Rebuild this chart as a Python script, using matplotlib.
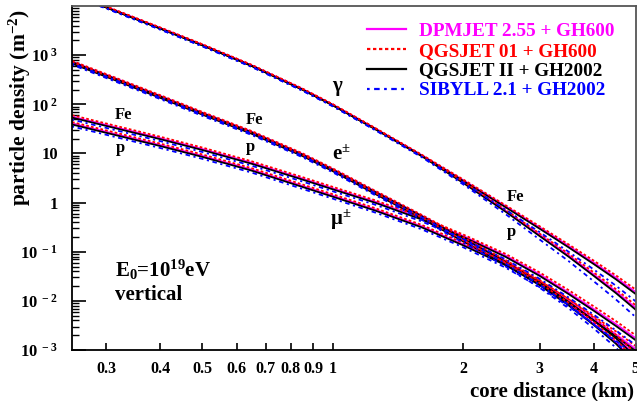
import numpy as np
import matplotlib.pyplot as plt
from matplotlib.lines import Line2D

# =========================
# Data (log10 of density, m^-2)
# =========================
r_km = [0.25, 0.3, 0.4, 0.5, 0.65, 0.85, 1.0, 1.25, 1.6, 2.0, 2.5, 3.0, 3.5, 4.0, 4.5, 5.0]

# QGSJET II + GH2002 (black) taken as reference curves
gamma_fe = [4.23, 3.97, 3.54, 3.20, 2.78, 2.30, 1.98, 1.50, 0.96, 0.44, -0.09, -0.53, -0.91, -1.25, -1.56, -1.86]
gamma_p = [4.23, 3.97, 3.54, 3.20, 2.78, 2.30, 1.98, 1.50, 0.95, 0.40, -0.18, -0.68, -1.10, -1.49, -1.84, -2.18]
elec_fe = [2.86, 2.59, 2.16, 1.82, 1.43, 0.98, 0.67, 0.22, -0.27, -0.73, -1.20, -1.62, -2.02, -2.40, -2.76, -3.14]
elec_p = [2.83, 2.56, 2.13, 1.79, 1.40, 0.95, 0.64, 0.18, -0.32, -0.79, -1.26, -1.68, -2.09, -2.49, -2.87, -3.28]
muon_fe = [1.73, 1.56, 1.29, 1.07, 0.79, 0.47, 0.27, 0.00, -0.34, -0.70, -1.10, -1.49, -1.86, -2.20, -2.51, -2.80]
muon_p = [1.59, 1.42, 1.15, 0.93, 0.65, 0.32, 0.12, -0.16, -0.50, -0.87, -1.27, -1.66, -2.04, -2.40, -2.72, -3.02]

# offsets of the other models relative to the black curves (log10)
gamma_off = {
    "DPMJET 2.55 + GH600": [0.01] * 9 + [0.015, 0.02, 0.025, 0.03, 0.03, 0.035, 0.04],
    "QGSJET 01 + GH600": [0.02] * 9 + [0.03, 0.04, 0.05, 0.06, 0.07, 0.08, 0.09],
    "QGSJET II + GH2002": [0.0] * 16,
    "SIBYLL 2.1 + GH2002": [-0.02] * 9 + [-0.03, -0.05, -0.07, -0.09, -0.11, -0.13, -0.15],
}
elec_off = {
    "DPMJET 2.55 + GH600": [0.01] * 10 + [0.015, 0.02, 0.02, 0.025, 0.03, 0.03],
    "QGSJET 01 + GH600": [0.025] * 10 + [0.035, 0.045, 0.055, 0.065, 0.07, 0.08],
    "QGSJET II + GH2002": [0.0] * 16,
    "SIBYLL 2.1 + GH2002": [-0.025] * 10 + [-0.035, -0.05, -0.06, -0.07, -0.08, -0.09],
}
muon_off = {
    "DPMJET 2.55 + GH600": [0.02] * 10 + [0.025, 0.03, 0.03, 0.035, 0.04, 0.04],
    "QGSJET 01 + GH600": [0.05] * 10 + [0.06, 0.07, 0.08, 0.09, 0.10, 0.10],
    "QGSJET II + GH2002": [0.0] * 16,
    "SIBYLL 2.1 + GH2002": [-0.04] * 10 + [-0.05, -0.06, -0.07, -0.08, -0.09, -0.10],
}

models = ["DPMJET 2.55 + GH600", "QGSJET 01 + GH600", "QGSJET II + GH2002", "SIBYLL 2.1 + GH2002"]
colors = {"DPMJET 2.55 + GH600": "#ff00ff", "QGSJET 01 + GH600": "#ff0000",
          "QGSJET II + GH2002": "#000000", "SIBYLL 2.1 + GH2002": "#0000ff"}
styles = {"DPMJET 2.55 + GH600": "-", "QGSJET 01 + GH600": (0, (1.5, 1.2)),
          "QGSJET II + GH2002": "-", "SIBYLL 2.1 + GH2002": (0, (1.2, 2.0, 2.5, 2.0))}
draw_order = ["DPMJET 2.55 + GH600", "QGSJET II + GH2002", "QGSJET 01 + GH600", "SIBYLL 2.1 + GH2002"]

xticks = [0.3, 0.4, 0.5, 0.6, 0.7, 0.8, 0.9, 1, 2, 3, 4, 5]
xticklabels = ["0.3", "0.4", "0.5", "0.6", "0.7", "0.8", "0.9", "1", "2", "3", "4", "5"]
yticks = [1e-3, 1e-2, 1e-1, 1, 10, 1e2, 1e3]
yticklabels = [r"$10^{\ -3}$", r"$10^{\ -2}$", r"$10^{\ -1}$", "1", "10", r"$10^{\ 2}$", r"$10^{\ 3}$"]

# =========================
# Style
# =========================
plt.rcParams["font.family"] = "Liberation Serif"
plt.rcParams["font.weight"] = "bold"
plt.rcParams["axes.labelweight"] = "bold"
plt.rcParams["mathtext.fontset"] = "custom"
plt.rcParams["mathtext.rm"] = "Liberation Serif:bold"
plt.rcParams["mathtext.it"] = "Liberation Serif:bold"
plt.rcParams["mathtext.bf"] = "Liberation Serif:bold"
plt.rcParams["mathtext.default"] = "rm"

fig = plt.figure(figsize=(6.37, 4.01), dpi=100)
ax = fig.add_axes([0.113, 0.127, 0.885, 0.858])

r = np.array(r_km)
curves = [(gamma_fe, gamma_off), (gamma_p, gamma_off),
          (elec_fe, elec_off), (elec_p, elec_off),
          (muon_fe, muon_off), (muon_p, muon_off)]
for m in draw_order:
    for base, off in curves:
        ax.plot(r, 10 ** (np.array(base) + np.array(off[m])),
                color=colors[m], linestyle=styles[m], linewidth=1.3)

ax.set_xscale("log")
ax.set_yscale("log")
ax.set_xlim(0.25, 5.0)
ax.set_ylim(1e-3, 1e4)

ax.set_xticks(xticks)
ax.set_xticklabels(xticklabels)
ax.xaxis.set_minor_locator(plt.NullLocator())
ax.set_yticks(yticks)
ax.set_yticklabels(yticklabels)
ax.yaxis.set_minor_locator(plt.LogLocator(base=10, subs=np.arange(2, 10)))
ax.yaxis.set_minor_formatter(plt.NullFormatter())
ax.tick_params(axis="both", which="both", direction="in", top=False, right=False)
ax.tick_params(axis="x", which="major", length=5, width=1.2, labelsize=11.5, pad=8)
ax.tick_params(axis="y", which="major", length=10, width=1.2, labelsize=12, pad=10)
ax.tick_params(axis="y", which="minor", length=5, width=1.0)
for s in ax.spines.values():
    s.set_linewidth(1.3)
ax.spines["top"].set_color("#555555")
ax.spines["right"].set_color("#555555")

ax.set_xlabel("core distance (km)", fontsize=15, loc="right")
ax.xaxis.set_label_coords(0.997, -0.09)
ax.set_ylabel(r"particle density (m$^{-2}$)", fontsize=15.5, loc="top")
ax.yaxis.set_label_coords(-0.07, 0.99)

# annotations (axes pixel positions converted to fractions)
def txt(px, py, s, size=13):
    ax.text((px - 72) / 564, (350 - py) / 344, s, transform=ax.transAxes,
            fontsize=size, ha="center", va="center")

txt(124, 115, "Fe", 12)
txt(120, 148, "p", 12)
txt(255, 120, "Fe", 12)
txt(250, 147, "p", 12)
txt(516, 197, "Fe", 12)
txt(512, 232, "p", 12)
txt(338, 88, r"$\gamma$", 15)
txt(342, 155, r"e$^{\pm}$", 15)
txt(341, 220, r"$\mu^{\pm}$", 15)
ax.text((115 - 72) / 564, (350 - 270) / 344, r"E$_0$=10$^{19}$eV", transform=ax.transAxes,
        fontsize=15, ha="left", va="center")
ax.text((115 - 72) / 564, (350 - 295) / 344, "vertical", transform=ax.transAxes,
        fontsize=15, ha="left", va="center")

# legend
handles = [Line2D([], [], color=colors[m], linestyle=styles[m], linewidth=1.6) for m in models]
leg = ax.legend(handles, models, loc="upper right", bbox_to_anchor=(0.983, 0.985),
                frameon=False, fontsize=13.8, handlelength=2.0, handletextpad=0.7,
                labelspacing=0.12, borderaxespad=0.2,
                labelcolor=[colors[m] for m in models])

fig.savefig("out.png", dpi=100)
